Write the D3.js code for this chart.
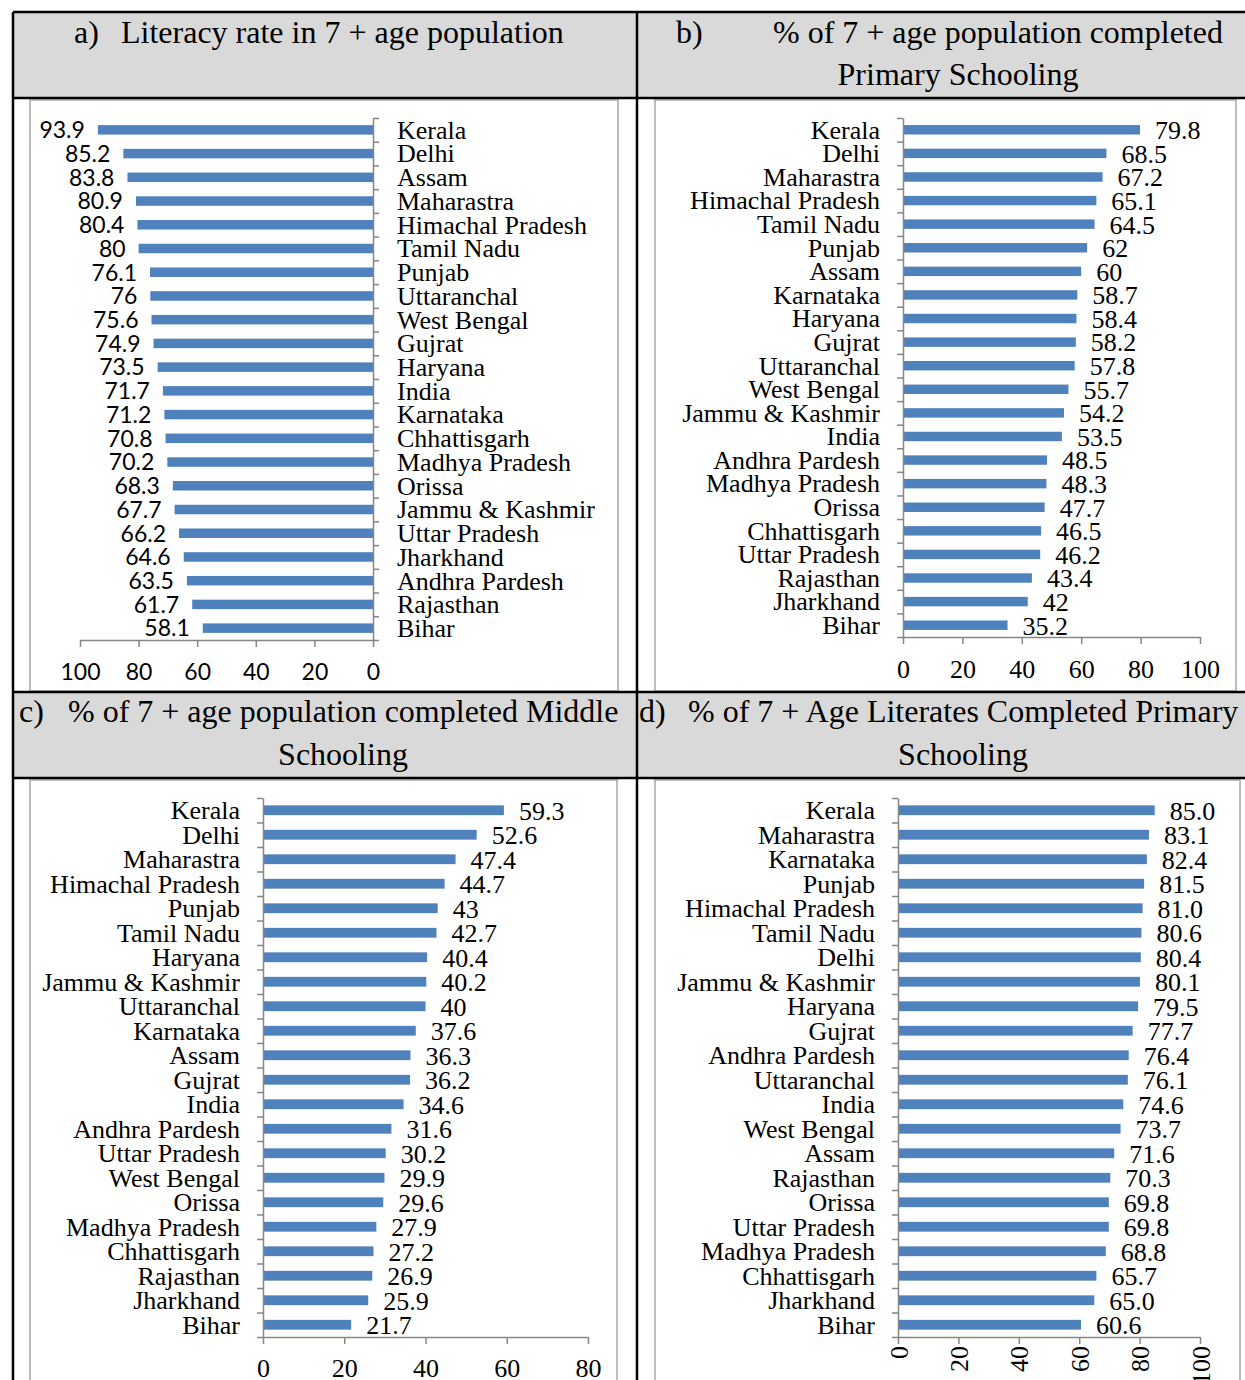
<!DOCTYPE html>
<meta charset="utf-8">
<style>
body { margin: 0; background: #fff; }
.serif { font-family: "Liberation Serif", "DejaVu Serif", serif; }
.sans { font-family: Lato, "Liberation Sans", sans-serif; }
.axis path, .axis line { stroke: #868686; stroke-width: 1.5; }
</style>
<svg width="1245" height="1380"></svg>
<script src="https://d3js.org/d3.v7.min.js"></script>
<script>

// a) literacy rate
var statesA = ["Kerala", "Delhi", "Assam", "Maharastra", "Himachal Pradesh", "Tamil Nadu", "Punjab",
  "Uttaranchal", "West Bengal", "Gujrat", "Haryana", "India", "Karnataka", "Chhattisgarh",
  "Madhya Pradesh", "Orissa", "Jammu & Kashmir", "Uttar Pradesh", "Jharkhand", "Andhra Pardesh",
  "Rajasthan", "Bihar"];
var valuesA = [93.9, 85.2, 83.8, 80.9, 80.4, 80, 76.1, 76, 75.6, 74.9, 73.5, 71.7, 71.2, 70.8,
  70.2, 68.3, 67.7, 66.2, 64.6, 63.5, 61.7, 58.1];

// b) completed primary schooling
var statesB = ["Kerala", "Delhi", "Maharastra", "Himachal Pradesh", "Tamil Nadu", "Punjab", "Assam",
  "Karnataka", "Haryana", "Gujrat", "Uttaranchal", "West Bengal", "Jammu & Kashmir", "India",
  "Andhra Pardesh", "Madhya Pradesh", "Orissa", "Chhattisgarh", "Uttar Pradesh", "Rajasthan",
  "Jharkhand", "Bihar"];
var valuesB = [79.8, 68.5, 67.2, 65.1, 64.5, 62, 60, 58.7, 58.4, 58.2, 57.8, 55.7, 54.2, 53.5,
  48.5, 48.3, 47.7, 46.5, 46.2, 43.4, 42, 35.2];

// c) completed middle schooling
var statesC = ["Kerala", "Delhi", "Maharastra", "Himachal Pradesh", "Punjab", "Tamil Nadu", "Haryana",
  "Jammu & Kashmir", "Uttaranchal", "Karnataka", "Assam", "Gujrat", "India", "Andhra Pardesh",
  "Uttar Pradesh", "West Bengal", "Orissa", "Madhya Pradesh", "Chhattisgarh", "Rajasthan",
  "Jharkhand", "Bihar"];
var valuesC = [59.3, 52.6, 47.4, 44.7, 43, 42.7, 40.4, 40.2, 40, 37.6, 36.3, 36.2, 34.6, 31.6,
  30.2, 29.9, 29.6, 27.9, 27.2, 26.9, 25.9, 21.7];

// d) literates completed primary schooling
var statesD = ["Kerala", "Maharastra", "Karnataka", "Punjab", "Himachal Pradesh", "Tamil Nadu", "Delhi",
  "Jammu & Kashmir", "Haryana", "Gujrat", "Andhra Pardesh", "Uttaranchal", "India", "West Bengal",
  "Assam", "Rajasthan", "Orissa", "Uttar Pradesh", "Madhya Pradesh", "Chhattisgarh",
  "Jharkhand", "Bihar"];
var valuesD = [85.0, 83.1, 82.4, 81.5, 81.0, 80.6, 80.4, 80.1, 79.5, 77.7, 76.4, 76.1, 74.6, 73.7,
  71.6, 70.3, 69.8, 69.8, 68.8, 65.7, 65.0, 60.6];

var ticks100 = [0, 20, 40, 60, 80, 100];
var ticks80 = [0, 20, 40, 60, 80];

var svg = d3.select("svg");
var barColor = "#4f81bd";

// table: gray header rows + black rules
svg.append("rect").attr("x", 13).attr("y", 12).attr("width", 1240).attr("height", 86).attr("fill", "#d9d9d9");
svg.append("rect").attr("x", 13).attr("y", 692).attr("width", 1240).attr("height", 86).attr("fill", "#d9d9d9");

// chart frames
var frames = [[30, 100, 588, 591], [655, 100, 581, 591], [30, 780, 587, 620], [655, 780, 585, 620]];
svg.selectAll("rect.frame").data(frames).enter().append("rect")
    .attr("class", "frame")
    .attr("x", function(d) { return d[0]; })
    .attr("y", function(d) { return d[1]; })
    .attr("width", function(d) { return d[2]; })
    .attr("height", function(d) { return d[3]; })
    .attr("fill", "#fff")
    .attr("stroke", "#a6a6a6")
    .attr("stroke-width", 1.5);

var rules = svg.append("g").attr("stroke", "#000").attr("stroke-width", 2.5);
rules.append("line").attr("x1", 13).attr("x2", 1245).attr("y1", 12).attr("y2", 12);
rules.append("line").attr("x1", 13).attr("x2", 1245).attr("y1", 98).attr("y2", 98);
rules.append("line").attr("x1", 13).attr("x2", 1245).attr("y1", 692).attr("y2", 692);
rules.append("line").attr("x1", 13).attr("x2", 1245).attr("y1", 778).attr("y2", 778);
rules.append("line").attr("x1", 13).attr("x2", 13).attr("y1", 12).attr("y2", 1380);
rules.append("line").attr("x1", 637).attr("x2", 637).attr("y1", 12).attr("y2", 1380);

// header texts
function header(letter, lx, line1, x1, y1, line2, x2, y2) {
  var g = svg.append("g").attr("class", "serif").attr("font-size", "32px").attr("fill", "#000");
  g.append("text").attr("x", lx).attr("y", y1).text(letter);
  g.append("text").attr("x", x1).attr("y", y1).text(line1);
  if (line2) g.append("text").attr("x", x2).attr("y", y2).attr("text-anchor", "middle").text(line2);
}
header("a)", 74, "Literacy rate in 7 + age population", 121, 43);
header("b)", 676, "% of 7 + age population completed", 773, 43, "Primary Schooling", 958, 85);
header("c)", 19, "% of 7 + age population completed Middle", 68, 722, "Schooling", 343, 765);
header("d)", 639, "% of 7 + Age Literates Completed Primary", 688, 722, "Schooling", 963, 765);

function drawPanel(p) {
  var g = svg.append("g");
  var x = d3.scaleLinear().domain([0, p.max]).range(p.xr);
  var y = d3.scaleBand().domain(p.states).range(p.yr).paddingInner(0.6).paddingOuter(0.3);
  var idx = d3.scaleLinear().domain([0, p.states.length]).range(p.yr);
  var data = p.states.map(function(s, i) { return { state: s, v: p.values[i] }; });
  var left = p.xr[0] > p.xr[1];

  g.selectAll("rect.bar").data(data).enter().append("rect")
      .attr("class", "bar")
      .attr("x", function(d) { return Math.min(x(0), x(d.v)); })
      .attr("width", function(d) { return Math.abs(x(d.v) - x(0)); })
      .attr("y", function(d) { return y(d.state); })
      .attr("height", y.bandwidth())
      .attr("fill", barColor);

  // category axis with ticks between bars
  var yAxis = (left ? d3.axisRight(idx) : d3.axisLeft(idx))
      .tickValues(d3.range(p.states.length + 1))
      .tickFormat("")
      .tickSize(6)
      .tickSizeOuter(0);
  g.append("g").attr("class", "axis").attr("transform", "translate(" + x(0) + ",0)").call(yAxis);

  var xAxis = d3.axisBottom(x).tickValues(p.ticks).tickSize(7).tickSizeOuter(0).tickPadding(p.pad);
  var xa = g.append("g").attr("class", "axis " + p.tickFont)
      .attr("transform", "translate(0," + p.yr[1] + ")").call(xAxis);
  xa.selectAll("text").attr("fill", "#000").attr("font-size", p.tickSize).attr("font-family", null);
  xa.attr("font-family", null);
  if (p.rotate) {
    xa.selectAll("text")
        .attr("transform", "rotate(-90)")
        .attr("text-anchor", "end")
        .attr("x", -9)
        .attr("y", 0)
        .attr("dy", "0.35em");
  }

  // category labels
  g.selectAll("text.cat").data(data).enter().append("text")
      .attr("class", "cat serif")
      .attr("x", left ? x(0) + 24 : x(0) - 23)
      .attr("y", function(d) { return y(d.state) + y.bandwidth() / 2; })
      .attr("dy", "0.34em")
      .attr("text-anchor", left ? "start" : "end")
      .attr("font-size", "26px")
      .text(function(d) { return d.state; });

  // value labels
  g.selectAll("text.val").data(data).enter().append("text")
      .attr("class", "val " + p.valFont)
      .attr("x", function(d) { return left ? x(d.v) - 13 : x(d.v) + 15; })
      .attr("y", function(d) { return y(d.state) + y.bandwidth() / 2; })
      .attr("dy", "0.36em")
      .attr("text-anchor", left ? "end" : "start")
      .attr("font-size", p.valSize)
      .text(function(d) { return p.fmt(d.v); });
}

drawPanel({ states: statesA, values: valuesA, max: 100, xr: [373, 80], yr: [118, 640],
  ticks: ticks100, pad: 17, tickFont: "sans", tickSize: "23px", valFont: "sans", valSize: "23px",
  fmt: String });
drawPanel({ states: statesB, values: valuesB, max: 100, xr: [903, 1200], yr: [118, 637],
  ticks: ticks100, pad: 16, tickFont: "serif", tickSize: "26px", valFont: "serif", valSize: "26px",
  fmt: String });
drawPanel({ states: statesC, values: valuesC, max: 80, xr: [263, 588], yr: [798, 1337],
  ticks: ticks80, pad: 15, tickFont: "serif", tickSize: "26px", valFont: "serif", valSize: "26px",
  fmt: String });
drawPanel({ states: statesD, values: valuesD, max: 100, xr: [898, 1200], yr: [798, 1337],
  ticks: ticks100, pad: 16, tickFont: "serif", tickSize: "26px", valFont: "serif", valSize: "26px",
  fmt: d3.format(".1f"), rotate: true });

</script>
